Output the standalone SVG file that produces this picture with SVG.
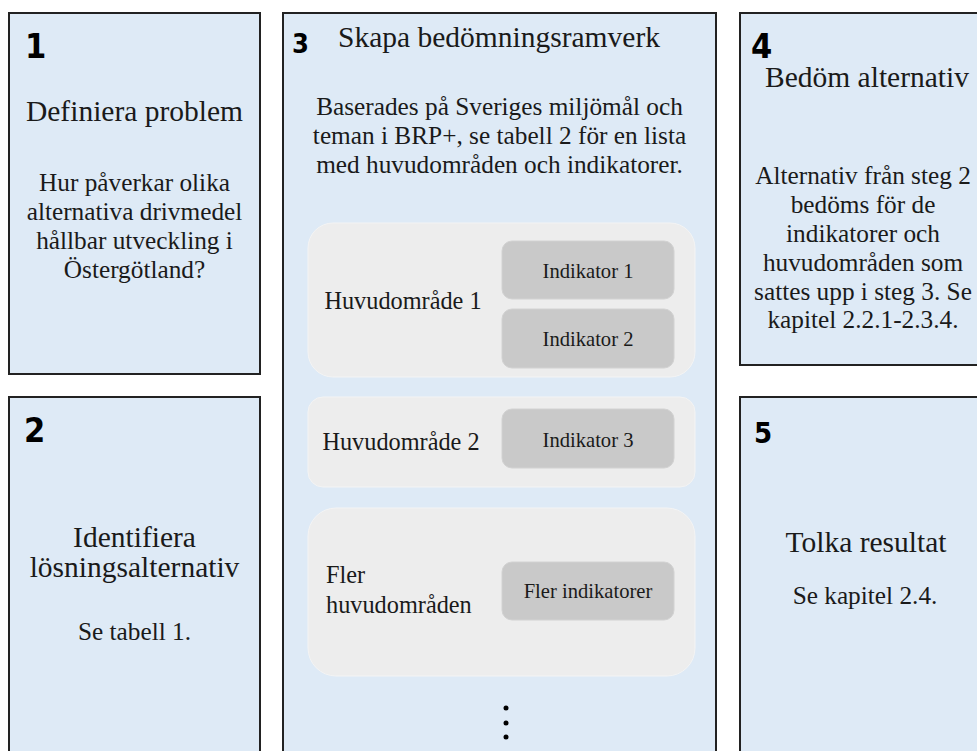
<svg xmlns="http://www.w3.org/2000/svg" width="977" height="751" viewBox="0 0 977 751">
  <style>
    .box { fill: #DEEAF6; stroke: #222222; stroke-width: 2; }
    .panel { fill: #EDEDED; stroke: #F4F4F4; stroke-width: 1; }
    .ind { fill: #C9C9C9; stroke: #D2D2D2; stroke-width: 1; }
    .num { font-family: "DejaVu Sans Condensed", "DejaVu Sans", sans-serif; font-weight: bold; fill: #000000; }
    .h { font-family: "Liberation Serif", "Times New Roman", serif; font-size: 29.5px; fill: #1a1a1a; text-anchor: middle; }
    .b { font-family: "Liberation Serif", "Times New Roman", serif; font-size: 25.3px; fill: #1a1a1a; text-anchor: middle; }
    .area { font-family: "Liberation Serif", "Times New Roman", serif; font-size: 24.3px; fill: #1a1a1a; }
    .it { font-family: "Liberation Serif", "Times New Roman", serif; font-size: 20.6px; fill: #1a1a1a; text-anchor: middle; }
  </style>

  <g id="step1">
    <rect class="box" x="9" y="13" width="251" height="361"/>
    <text class="num" x="25" y="58" font-size="34">1</text>
    <text class="h" x="134.5" y="121">Definiera problem</text>
    <text class="b" x="134.5" y="191">Hur påverkar olika</text>
    <text class="b" x="134.5" y="220">alternativa drivmedel</text>
    <text class="b" x="134.5" y="249">hållbar utveckling i</text>
    <text class="b" x="134.5" y="278">Östergötland?</text>
  </g>

  <g id="step2">
    <rect class="box" x="9" y="397" width="251" height="400"/>
    <text class="num" x="24" y="442" font-size="34">2</text>
    <text class="h" x="134.5" y="547">Identifiera</text>
    <text class="h" x="134.5" y="577">lösningsalternativ</text>
    <text class="b" x="134.5" y="640">Se tabell 1.</text>
  </g>

  <g id="step3">
    <rect class="box" x="283" y="13" width="433" height="800"/>
    <text class="num" x="292" y="53" font-size="27">3</text>
    <text class="h" x="499" y="47">Skapa bedömningsramverk</text>
    <text class="b" x="499.5" y="115">Baserades på Sveriges miljömål och</text>
    <text class="b" x="499.5" y="144">teman i BRP+, se tabell 2 för en lista</text>
    <text class="b" x="499.5" y="173">med huvudområden och indikatorer.</text>

    <g id="area1">
      <rect class="panel" x="308" y="223" width="387" height="154" rx="25" ry="25"/>
      <text class="area" x="403" y="309" text-anchor="middle">Huvudområde 1</text>
      <g id="ind1">
        <rect class="ind" x="502" y="241" width="172" height="58" rx="10" ry="10"/>
        <text class="it" x="588" y="278">Indikator 1</text>
      </g>
      <g id="ind2">
        <rect class="ind" x="502" y="309" width="172" height="59" rx="10" ry="10"/>
        <text class="it" x="588" y="346">Indikator 2</text>
      </g>
    </g>

    <g id="area2">
      <rect class="panel" x="308" y="397" width="387" height="90" rx="15" ry="15"/>
      <text class="area" x="401" y="450" text-anchor="middle">Huvudområde 2</text>
      <g id="ind3">
        <rect class="ind" x="502" y="409" width="172" height="59" rx="10" ry="10"/>
        <text class="it" x="588" y="447">Indikator 3</text>
      </g>
    </g>

    <g id="area3">
      <rect class="panel" x="308" y="508" width="387" height="168" rx="28" ry="28"/>
      <text class="area" x="326" y="583">Fler</text>
      <text class="area" x="326" y="613">huvudområden</text>
      <g id="ind4">
        <rect class="ind" x="502" y="562" width="172" height="58" rx="10" ry="10"/>
        <text class="it" x="588" y="598">Fler indikatorer</text>
      </g>
    </g>

    <g id="ellipsis">
      <circle cx="506" cy="708" r="2.5" fill="#000"/>
      <circle cx="506" cy="723" r="2.5" fill="#000"/>
      <circle cx="506" cy="737" r="2.5" fill="#000"/>
    </g>
  </g>

  <g id="step4">
    <rect class="box" x="740" y="13" width="251" height="352"/>
    <text class="num" x="751" y="58" font-size="34">4</text>
    <text class="h" x="867" y="87">Bedöm alternativ</text>
    <text class="b" x="863" y="184">Alternativ från steg 2</text>
    <text class="b" x="863" y="213">bedöms för de</text>
    <text class="b" x="863" y="242">indikatorer och</text>
    <text class="b" x="863" y="271">huvudområden som</text>
    <text class="b" x="863" y="300">sattes upp i steg 3. Se</text>
    <text class="b" x="863" y="328">kapitel 2.2.1-2.3.4.</text>
  </g>

  <g id="step5">
    <rect class="box" x="740" y="397" width="251" height="400"/>
    <text class="num" x="754" y="443" font-size="29">5</text>
    <text class="h" x="866" y="552">Tolka resultat</text>
    <text class="b" x="865" y="604">Se kapitel 2.4.</text>
  </g>

  <g id="connectors"/>
</svg>
